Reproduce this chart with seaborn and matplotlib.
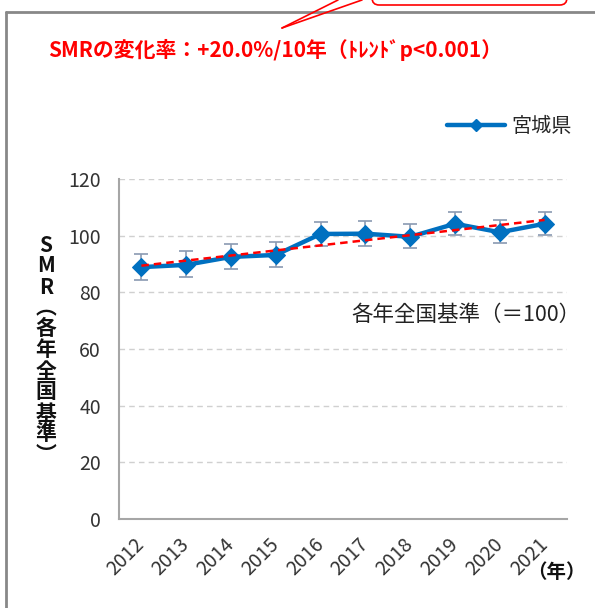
import numpy as np
import pandas as pd
import matplotlib
matplotlib.use("Agg")
import matplotlib.pyplot as plt
from matplotlib.patches import FancyBboxPatch
from matplotlib.lines import Line2D
from matplotlib.ticker import FixedLocator
import seaborn as sns

# ---- data ----
years = [2012, 2013, 2014, 2015, 2016, 2017, 2018, 2019, 2020, 2021]
smr = [88.9, 89.7, 92.5, 93.2, 100.6, 100.7, 99.6, 104.2, 101.2, 104.2]
ci_low = [84.4, 85.5, 88.3, 89.1, 96.3, 96.5, 95.5, 100.1, 97.3, 100.2]
ci_high = [93.6, 94.5, 97.1, 97.7, 105.0, 105.3, 104.0, 108.5, 105.4, 108.5]
series_name = "宮城県"
title_text = "SMRの変化率：+20.0%/10年（ﾄﾚﾝﾄﾞp<0.001）"
ylabel_chars = ["S", "M", "R", "︵", "各", "年", "全", "国", "基", "準", "︶"]
note_text = "各年全国基準（＝100）"
xunit_text = "（年）"

df = pd.DataFrame({"year": years, "smr": smr, "lo": ci_low, "hi": ci_high})
coef = np.polyfit(df["year"], df["smr"], 1)
df["trend"] = np.polyval(coef, df["year"])

# ---- style ----
sns.set_style("white")
plt.rcParams["font.family"] = ["Noto Sans CJK JP", "DejaVu Sans"]

W, H = 595, 608
fig = plt.figure(figsize=(W / 100, H / 100), dpi=100)


def fx(x):
    return x / W


def fy(y):
    return 1 - y / H


ax = fig.add_axes([fx(119), fy(519), fx(567) - fx(119), fy(179) - fy(519)])

blue = "#0070C0"
grid_gray = "#D0D0D0"
axis_gray = "#A6A6A6"

# error bars
ax.errorbar(df["year"], df["smr"],
            yerr=[df["smr"] - df["lo"], df["hi"] - df["smr"]],
            fmt="none", ecolor="#8A9AB2", elinewidth=1.2, capsize=5,
            capthick=1.2, zorder=2)

# main series
sns.lineplot(data=df, x="year", y="smr", ax=ax, color=blue, lw=3.2,
             marker="D", markersize=9, markeredgecolor=blue,
             markerfacecolor=blue, zorder=3, label=series_name, legend=False)

# linear trend
sns.lineplot(data=df, x="year", y="trend", ax=ax, color="#FF0000", lw=1.8,
             linestyle=(0, (3, 2)), zorder=4, legend=False)

ax.set_xlim(years[0] - 0.5, years[-1] + 0.5)
ax.set_ylim(0, 120)
ax.set_yticks(np.arange(0, 121, 20))
ax.set_xticks(years)
ax.set_xticklabels([str(y) for y in years], rotation=45, ha="right",
                   va="center", rotation_mode="anchor")
ax.xaxis.set_minor_locator(FixedLocator(np.arange(years[0] - 0.5, years[-1] + 0.6, 1)))
ax.tick_params(axis="x", which="major", length=0, pad=16, labelsize=14,
               labelcolor="#333333")
ax.tick_params(axis="x", which="minor", length=5, width=1.2, color=axis_gray,
               direction="out")
ax.tick_params(axis="y", length=5, width=1.2, color=axis_gray, direction="out",
               labelsize=14, labelcolor="#333333", pad=8)
ax.set_xlabel("")
ax.set_ylabel("")

for v in range(20, 121, 20):
    ax.axhline(v, color=grid_gray, lw=1.0, linestyle=(0, (4, 3)), zorder=1)

for s in ["top", "right"]:
    ax.spines[s].set_visible(False)
for s in ["left", "bottom"]:
    ax.spines[s].set_color(axis_gray)
    ax.spines[s].set_linewidth(1.5)

# legend
handle = Line2D([], [], color=blue, lw=3.2, marker="D", markersize=6,
                markerfacecolor=blue, markeredgecolor=blue)
fig.legend([handle], [series_name], loc="center left",
           bbox_to_anchor=(fx(447), fy(127)), frameon=False, fontsize=14.5,
           handlelength=2.9, handletextpad=0.3, borderaxespad=0,
           borderpad=0)

# annotations
fig.text(fx(48), fy(50), title_text, color="#FF0000", fontsize=15,
         fontweight="bold", ha="left", va="center")
fig.text(fx(580), fy(315), note_text, color="#222222", fontsize=15.5,
         ha="right", va="center")
fig.text(fx(586), fy(573), xunit_text, color="#111111", fontsize=14,
         fontweight="bold", ha="right", va="center")

y0, step = 245, 21
for i, ch in enumerate(ylabel_chars):
    fig.text(fx(46), fy(y0 + i * step), ch, fontsize=15, fontweight="bold",
             color="#111111", ha="center", va="center")

# outer frame of the panel
fig.add_artist(Line2D([fx(6), fx(W)], [fy(12), fy(12)], color="#888888", lw=2))
fig.add_artist(Line2D([fx(6), fx(6)], [fy(12), fy(H)], color="#888888", lw=2))

# callout box and its pointer
box = FancyBboxPatch((fx(372), fy(5)), fx(567) - fx(372), 0.05,
                     boxstyle="round,pad=0,rounding_size=0.012",
                     transform=fig.transFigure, facecolor="white",
                     edgecolor="#FF0000", lw=1.2)
fig.add_artist(box)
fig.add_artist(Line2D([fx(282), fx(338)], [fy(28), fy(0)], color="#FF0000", lw=1.2))
fig.add_artist(Line2D([fx(282), fx(362)], [fy(28), fy(0)], color="#FF0000", lw=1.2))

fig.savefig("out.png", dpi=100)
